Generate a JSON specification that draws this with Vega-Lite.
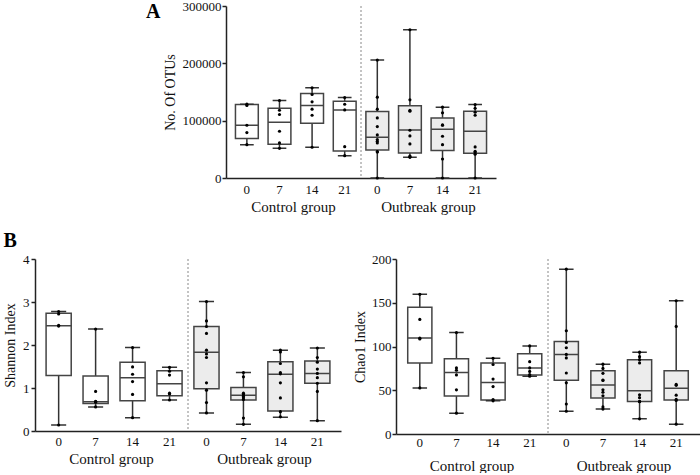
{
  "$schema": "https://vega.github.io/schema/vega-lite/v6.json",
  "padding": {"left": 3, "right": 0, "top": 0, "bottom": 0},
  "config": {
    "view": {"stroke": null},
    "font": "Liberation Serif",
    "axis": {"labelFont": "Liberation Serif", "titleFont": "Liberation Serif", "labelColor": "#111", "titleColor": "#111", "domainColor": "#222", "tickColor": "#222", "domainWidth": 1.5, "tickWidth": 1.5, "grid": false, "titleFontWeight": "normal"},
    "title": {"font": "Liberation Serif", "color": "#000"}
  },
  "datasets": {
    "boxA": [
      {"cat": "C0", "g": "Control", "min": 58200, "q1": 68700, "med": 92000, "q3": 128100, "max": 128800},
      {"cat": "C7", "g": "Control", "min": 51800, "q1": 58800, "med": 97300, "q3": 121700, "max": 135100},
      {"cat": "C14", "g": "Control", "min": 53600, "q1": 95500, "med": 126400, "q3": 147300, "max": 157300},
      {"cat": "C21", "g": "Control", "min": 39000, "q1": 47200, "med": 118800, "q3": 134000, "max": 140400},
      {"cat": "O0", "g": "Outbreak", "min": 0, "q1": 48900, "med": 71100, "q3": 115900, "max": 205600},
      {"cat": "O7", "g": "Outbreak", "min": 36100, "q1": 43700, "med": 83900, "q3": 125800, "max": 258600},
      {"cat": "O14", "g": "Outbreak", "min": 0, "q1": 47800, "med": 85000, "q3": 104800, "max": 123500},
      {"cat": "O21", "g": "Outbreak", "min": 0, "q1": 43100, "med": 81500, "q3": 116500, "max": 128100}
    ],
    "ptsA": [
      {"cat": "C0", "v": 128800}, {"cat": "C0", "v": 126400}, {"cat": "C0", "v": 92000}, {"cat": "C0", "v": 79200}, {"cat": "C0", "v": 58200},
      {"cat": "C7", "v": 135100}, {"cat": "C7", "v": 118200}, {"cat": "C7", "v": 110700}, {"cat": "C7", "v": 81500}, {"cat": "C7", "v": 61200}, {"cat": "C7", "v": 51800},
      {"cat": "C14", "v": 157300}, {"cat": "C14", "v": 145600}, {"cat": "C14", "v": 132800}, {"cat": "C14", "v": 120000}, {"cat": "C14", "v": 109500}, {"cat": "C14", "v": 53600},
      {"cat": "C21", "v": 140400}, {"cat": "C21", "v": 128700}, {"cat": "C21", "v": 118800}, {"cat": "C21", "v": 54700}, {"cat": "C21", "v": 39000},
      {"cat": "O0", "v": 205600}, {"cat": "O0", "v": 141000}, {"cat": "O0", "v": 120000}, {"cat": "O0", "v": 104800}, {"cat": "O0", "v": 89700}, {"cat": "O0", "v": 75100}, {"cat": "O0", "v": 67000}, {"cat": "O0", "v": 64000}, {"cat": "O0", "v": 61000}, {"cat": "O0", "v": 46000}, {"cat": "O0", "v": 45500}, {"cat": "O0", "v": 0},
      {"cat": "O7", "v": 258600}, {"cat": "O7", "v": 136300}, {"cat": "O7", "v": 118200}, {"cat": "O7", "v": 116500}, {"cat": "O7", "v": 83300}, {"cat": "O7", "v": 73400}, {"cat": "O7", "v": 59400}, {"cat": "O7", "v": 38400}, {"cat": "O7", "v": 37000}, {"cat": "O7", "v": 36100},
      {"cat": "O14", "v": 123500}, {"cat": "O14", "v": 113600}, {"cat": "O14", "v": 92600}, {"cat": "O14", "v": 92000}, {"cat": "O14", "v": 72800}, {"cat": "O14", "v": 58200}, {"cat": "O14", "v": 33200}, {"cat": "O14", "v": 0},
      {"cat": "O21", "v": 128100}, {"cat": "O21", "v": 121700}, {"cat": "O21", "v": 114700}, {"cat": "O21", "v": 109500}, {"cat": "O21", "v": 54200}, {"cat": "O21", "v": 46600}, {"cat": "O21", "v": 44300}, {"cat": "O21", "v": 41400}, {"cat": "O21", "v": 0}
    ],
    "boxS": [
      {"cat": "C0", "g": "Control", "min": 0.14, "q1": 1.29, "med": 2.45, "q3": 2.74, "max": 2.78},
      {"cat": "C7", "g": "Control", "min": 0.56, "q1": 0.64, "med": 0.68, "q3": 1.28, "max": 2.37},
      {"cat": "C14", "g": "Control", "min": 0.31, "q1": 0.705, "med": 1.24, "q3": 1.60, "max": 1.94},
      {"cat": "C21", "g": "Control", "min": 0.72, "q1": 0.82, "med": 1.10, "q3": 1.40, "max": 1.48},
      {"cat": "O0", "g": "Outbreak", "min": 0.42, "q1": 0.98, "med": 1.83, "q3": 2.43, "max": 3.01},
      {"cat": "O7", "g": "Outbreak", "min": 0.155, "q1": 0.72, "med": 0.83, "q3": 1.01, "max": 1.36},
      {"cat": "O14", "g": "Outbreak", "min": 0.32, "q1": 0.465, "med": 1.32, "q3": 1.61, "max": 1.88},
      {"cat": "O21", "g": "Outbreak", "min": 0.24, "q1": 1.11, "med": 1.34, "q3": 1.63, "max": 1.93}
    ],
    "ptsS": [
      {"cat": "C0", "v": 2.78}, {"cat": "C0", "v": 2.72}, {"cat": "C0", "v": 2.46}, {"cat": "C0", "v": 2.44}, {"cat": "C0", "v": 0.14},
      {"cat": "C7", "v": 2.37}, {"cat": "C7", "v": 0.92}, {"cat": "C7", "v": 0.69}, {"cat": "C7", "v": 0.68}, {"cat": "C7", "v": 0.67}, {"cat": "C7", "v": 0.56},
      {"cat": "C14", "v": 1.94}, {"cat": "C14", "v": 1.49}, {"cat": "C14", "v": 1.32}, {"cat": "C14", "v": 1.15}, {"cat": "C14", "v": 0.85}, {"cat": "C14", "v": 0.31},
      {"cat": "C21", "v": 1.48}, {"cat": "C21", "v": 1.39}, {"cat": "C21", "v": 1.30}, {"cat": "C21", "v": 0.88}, {"cat": "C21", "v": 0.86}, {"cat": "C21", "v": 0.72},
      {"cat": "O0", "v": 3.01}, {"cat": "O0", "v": 2.56}, {"cat": "O0", "v": 2.43}, {"cat": "O0", "v": 2.27}, {"cat": "O0", "v": 1.88}, {"cat": "O0", "v": 1.79}, {"cat": "O0", "v": 1.71}, {"cat": "O0", "v": 1.12}, {"cat": "O0", "v": 0.95}, {"cat": "O0", "v": 0.66}, {"cat": "O0", "v": 0.42},
      {"cat": "O7", "v": 1.36}, {"cat": "O7", "v": 1.26}, {"cat": "O7", "v": 0.88}, {"cat": "O7", "v": 0.86}, {"cat": "O7", "v": 0.84}, {"cat": "O7", "v": 0.80}, {"cat": "O7", "v": 0.77}, {"cat": "O7", "v": 0.73}, {"cat": "O7", "v": 0.30}, {"cat": "O7", "v": 0.155},
      {"cat": "O14", "v": 1.88}, {"cat": "O14", "v": 1.84}, {"cat": "O14", "v": 1.57}, {"cat": "O14", "v": 1.36}, {"cat": "O14", "v": 1.33}, {"cat": "O14", "v": 1.12}, {"cat": "O14", "v": 0.77}, {"cat": "O14", "v": 0.45}, {"cat": "O14", "v": 0.33},
      {"cat": "O21", "v": 1.93}, {"cat": "O21", "v": 1.71}, {"cat": "O21", "v": 1.60}, {"cat": "O21", "v": 1.44}, {"cat": "O21", "v": 1.34}, {"cat": "O21", "v": 1.24}, {"cat": "O21", "v": 1.11}, {"cat": "O21", "v": 0.92}, {"cat": "O21", "v": 0.24}
    ],
    "boxC": [
      {"cat": "C0", "g": "Control", "min": 52.7, "q1": 81.2, "med": 109.7, "q3": 145, "max": 159.6},
      {"cat": "C7", "g": "Control", "min": 23.8, "q1": 43.3, "med": 70.4, "q3": 85.9, "max": 115.9},
      {"cat": "C14", "g": "Control", "min": 37.9, "q1": 39.0, "med": 58.8, "q3": 81.2, "max": 86.6},
      {"cat": "C21", "g": "Control", "min": 66, "q1": 67.5, "med": 75.5, "q3": 91.7, "max": 100.7},
      {"cat": "O0", "g": "Outbreak", "min": 26, "q1": 61.4, "med": 91, "q3": 105.8, "max": 188.4},
      {"cat": "O7", "g": "Outbreak", "min": 28.5, "q1": 41.2, "med": 56, "q3": 72.2, "max": 79.8},
      {"cat": "O14", "g": "Outbreak", "min": 17.3, "q1": 37.2, "med": 49.5, "q3": 84.8, "max": 93.5},
      {"cat": "O21", "g": "Outbreak", "min": 11.2, "q1": 39, "med": 52.3, "q3": 72.2, "max": 152.3}
    ],
    "ptsC": [
      {"cat": "C0", "v": 159.6}, {"cat": "C0", "v": 131}, {"cat": "C0", "v": 109.5}, {"cat": "C0", "v": 108.7}, {"cat": "C0", "v": 52.7},
      {"cat": "C7", "v": 115.9}, {"cat": "C7", "v": 75.5}, {"cat": "C7", "v": 72.9}, {"cat": "C7", "v": 67.5}, {"cat": "C7", "v": 50.5}, {"cat": "C7", "v": 23.8},
      {"cat": "C14", "v": 86.6}, {"cat": "C14", "v": 79.4}, {"cat": "C14", "v": 62.8}, {"cat": "C14", "v": 54.2}, {"cat": "C14", "v": 39.4}, {"cat": "C14", "v": 37.9},
      {"cat": "C21", "v": 100.7}, {"cat": "C21", "v": 82.7}, {"cat": "C21", "v": 75.5}, {"cat": "C21", "v": 71.5}, {"cat": "C21", "v": 68}, {"cat": "C21", "v": 66},
      {"cat": "O0", "v": 188.4}, {"cat": "O0", "v": 118}, {"cat": "O0", "v": 104.7}, {"cat": "O0", "v": 98.6}, {"cat": "O0", "v": 91}, {"cat": "O0", "v": 87}, {"cat": "O0", "v": 69.7}, {"cat": "O0", "v": 58.5}, {"cat": "O0", "v": 34.3}, {"cat": "O0", "v": 26},
      {"cat": "O7", "v": 79.8}, {"cat": "O7", "v": 75}, {"cat": "O7", "v": 69.3}, {"cat": "O7", "v": 61.7}, {"cat": "O7", "v": 61.2}, {"cat": "O7", "v": 50.5}, {"cat": "O7", "v": 47.7}, {"cat": "O7", "v": 43.7}, {"cat": "O7", "v": 31}, {"cat": "O7", "v": 28.5},
      {"cat": "O14", "v": 93.5}, {"cat": "O14", "v": 88.4}, {"cat": "O14", "v": 85}, {"cat": "O14", "v": 81.2}, {"cat": "O14", "v": 44.8}, {"cat": "O14", "v": 41.5}, {"cat": "O14", "v": 37.2}, {"cat": "O14", "v": 37}, {"cat": "O14", "v": 17.3},
      {"cat": "O21", "v": 152.3}, {"cat": "O21", "v": 123}, {"cat": "O21", "v": 56.7}, {"cat": "O21", "v": 55.6}, {"cat": "O21", "v": 44.4}, {"cat": "O21", "v": 39.5}, {"cat": "O21", "v": 38.3}, {"cat": "O21", "v": 11.2}
    ]
  },
  "vconcat": [
    {
      "hconcat": [
        {"width": 101, "height": 1, "data": {"values": []}, "mark": "point"},
        {
          "width": 270, "height": 172,
          "title": {"text": "A", "anchor": "start", "frame": "bounds", "offset": -22, "dx": -17, "fontSize": 20, "fontWeight": "bold"},
          "layer": [
            {
              "encoding": {
                "x": {"field": "cat", "type": "nominal", "title": null, "scale": {"type": "band", "domain": ["C0","C7","C14","C21","O0","O7","O14","O21"], "paddingInner": 0.3, "paddingOuter": 0.29}, "axis": {"labelExpr": "replace(datum.value, /[CO]/, '')", "labelAngle": 0, "ticks": false, "labelPadding": 5, "labelFontSize": 13}}
              },
              "layer": [
                {"data": {"name": "boxA"}, "mark": {"type": "rule", "stroke": "#333", "strokeWidth": 1.5}, "encoding": {"y": {"field": "min", "type": "quantitative", "title": "No. Of OTUs", "scale": {"domain": [0, 300000], "nice": false}, "axis": {"values": [0, 100000, 200000, 300000], "format": "d", "titleFontSize": 14, "labelFontSize": 13, "tickSize": 4, "labelPadding": 1, "titlePadding": 5}}, "y2": {"field": "max"}}},
                {"data": {"name": "boxA"}, "mark": {"type": "bar", "stroke": "#444", "strokeWidth": 1.5}, "encoding": {"y": {"field": "q1", "type": "quantitative", "title": "No. Of OTUs", "scale": {"domain": [0, 300000], "nice": false}, "axis": {"values": [0, 100000, 200000, 300000], "format": "d", "titleFontSize": 14, "labelFontSize": 13, "tickSize": 4, "labelPadding": 1, "titlePadding": 5}}, "y2": {"field": "q3"}, "fill": {"field": "g", "type": "nominal", "scale": {"domain": ["Control", "Outbreak"], "range": ["#ffffff", "#ececec"]}, "legend": null}}},
                {"data": {"name": "boxA"}, "mark": {"type": "bar", "fill": "transparent", "stroke": "#444", "strokeWidth": 1.5}, "encoding": {"y": {"field": "med", "type": "quantitative", "title": "No. Of OTUs", "scale": {"domain": [0, 300000], "nice": false}, "axis": {"values": [0, 100000, 200000, 300000], "format": "d", "titleFontSize": 14, "labelFontSize": 13, "tickSize": 4, "labelPadding": 1, "titlePadding": 5}}, "y2": {"field": "med"}}},
                {"data": {"name": "boxA"}, "mark": {"type": "bar", "fill": "transparent", "stroke": "#333", "strokeWidth": 1.5, "width": {"band": 0.6}}, "encoding": {"y": {"field": "max", "type": "quantitative", "title": "No. Of OTUs", "scale": {"domain": [0, 300000], "nice": false}, "axis": {"values": [0, 100000, 200000, 300000], "format": "d", "titleFontSize": 14, "labelFontSize": 13, "tickSize": 4, "labelPadding": 1, "titlePadding": 5}}, "y2": {"field": "max"}}},
                {"data": {"name": "boxA"}, "mark": {"type": "bar", "fill": "transparent", "stroke": "#333", "strokeWidth": 1.5, "width": {"band": 0.6}}, "encoding": {"y": {"field": "min", "type": "quantitative", "title": "No. Of OTUs", "scale": {"domain": [0, 300000], "nice": false}, "axis": {"values": [0, 100000, 200000, 300000], "format": "d", "titleFontSize": 14, "labelFontSize": 13, "tickSize": 4, "labelPadding": 1, "titlePadding": 5}}, "y2": {"field": "min"}}},
                {"data": {"name": "ptsA"}, "mark": {"type": "point", "filled": true, "color": "#000", "size": 10, "opacity": 1}, "encoding": {"y": {"field": "v", "type": "quantitative", "title": "No. Of OTUs", "scale": {"domain": [0, 300000], "nice": false}, "axis": {"values": [0, 100000, 200000, 300000], "format": "d", "titleFontSize": 14, "labelFontSize": 13, "tickSize": 4, "labelPadding": 1, "titlePadding": 5}}}}
              ]
            },
            {
              "data": {"values": [{"g": "Outbreak"}]},
              "mark": {"type": "rule", "stroke": "#888", "strokeWidth": 1, "strokeDash": [2, 2]},
              "encoding": {"x": {"field": "g", "type": "nominal", "bandPosition": 0, "title": null, "scale": {"type": "band", "domain": ["Control", "Outbreak"], "paddingInner": 0, "paddingOuter": 0}, "axis": {"orient": "bottom", "offset": 19, "domain": false, "ticks": false, "labelPadding": 2, "labelFontSize": 15, "labelAngle": 0, "labelExpr": "datum.value + ' group'"}}}
            }
          ],
          "resolve": {"scale": {"x": "independent"}, "axis": {"x": "independent"}}
        }
      ],
      "spacing": 10
    },
    {
      "title": {"text": "B", "anchor": "start", "frame": "bounds", "offset": -8, "fontSize": 20, "fontWeight": "bold"},
      "hconcat": [
        {
          "width": 306, "height": 172,
          "title": {"text": " ", "fontSize": 8, "offset": 2},
          "layer": [
            {
              "encoding": {"x": {"field": "cat", "type": "nominal", "title": null, "scale": {"type": "band", "domain": ["C0","C7","C14","C21","O0","O7","O14","O21"], "paddingInner": 0.32, "paddingOuter": 0.3}, "axis": {"labelExpr": "replace(datum.value, /[CO]/, '')", "labelAngle": 0, "ticks": false, "labelPadding": 4, "labelFontSize": 13}}},
              "layer": [
                {"data": {"name": "boxS"}, "mark": {"type": "rule", "stroke": "#333", "strokeWidth": 1.5}, "encoding": {"y": {"field": "min", "type": "quantitative", "title": "Shannon Index", "scale": {"domain": [0, 4], "nice": false}, "axis": {"values": [0, 1, 2, 3, 4], "titleFontSize": 14, "labelFontSize": 13, "tickSize": 4, "labelPadding": 2, "titlePadding": 5}}, "y2": {"field": "max"}}},
                {"data": {"name": "boxS"}, "mark": {"type": "bar", "stroke": "#444", "strokeWidth": 1.5}, "encoding": {"y": {"field": "q1", "type": "quantitative", "title": "Shannon Index", "scale": {"domain": [0, 4], "nice": false}, "axis": {"values": [0, 1, 2, 3, 4], "titleFontSize": 14, "labelFontSize": 13, "tickSize": 4, "labelPadding": 2, "titlePadding": 5}}, "y2": {"field": "q3"}, "fill": {"field": "g", "type": "nominal", "scale": {"domain": ["Control", "Outbreak"], "range": ["#ffffff", "#ececec"]}, "legend": null}}},
                {"data": {"name": "boxS"}, "mark": {"type": "bar", "fill": "transparent", "stroke": "#444", "strokeWidth": 1.5}, "encoding": {"y": {"field": "med", "type": "quantitative", "title": "Shannon Index", "scale": {"domain": [0, 4], "nice": false}, "axis": {"values": [0, 1, 2, 3, 4], "titleFontSize": 14, "labelFontSize": 13, "tickSize": 4, "labelPadding": 2, "titlePadding": 5}}, "y2": {"field": "med"}}},
                {"data": {"name": "boxS"}, "mark": {"type": "bar", "fill": "transparent", "stroke": "#333", "strokeWidth": 1.5, "width": {"band": 0.6}}, "encoding": {"y": {"field": "max", "type": "quantitative", "title": "Shannon Index", "scale": {"domain": [0, 4], "nice": false}, "axis": {"values": [0, 1, 2, 3, 4], "titleFontSize": 14, "labelFontSize": 13, "tickSize": 4, "labelPadding": 2, "titlePadding": 5}}, "y2": {"field": "max"}}},
                {"data": {"name": "boxS"}, "mark": {"type": "bar", "fill": "transparent", "stroke": "#333", "strokeWidth": 1.5, "width": {"band": 0.6}}, "encoding": {"y": {"field": "min", "type": "quantitative", "title": "Shannon Index", "scale": {"domain": [0, 4], "nice": false}, "axis": {"values": [0, 1, 2, 3, 4], "titleFontSize": 14, "labelFontSize": 13, "tickSize": 4, "labelPadding": 2, "titlePadding": 5}}, "y2": {"field": "min"}}},
                {"data": {"name": "ptsS"}, "mark": {"type": "point", "filled": true, "color": "#000", "size": 10, "opacity": 1}, "encoding": {"y": {"field": "v", "type": "quantitative", "title": "Shannon Index", "scale": {"domain": [0, 4], "nice": false}, "axis": {"values": [0, 1, 2, 3, 4], "titleFontSize": 14, "labelFontSize": 13, "tickSize": 4, "labelPadding": 2, "titlePadding": 5}}}}
              ]
            },
            {
              "data": {"values": [{"g": "Outbreak"}]},
              "mark": {"type": "rule", "stroke": "#888", "strokeWidth": 1, "strokeDash": [2, 2]},
              "encoding": {"x": {"field": "g", "type": "nominal", "bandPosition": 0, "title": null, "scale": {"type": "band", "domain": ["Control", "Outbreak"], "paddingInner": 0, "paddingOuter": 0}, "axis": {"orient": "bottom", "offset": 18, "domain": false, "ticks": false, "labelPadding": 2, "labelFontSize": 15, "labelAngle": 0, "labelExpr": "datum.value + ' group'"}}}
            }
          ],
          "resolve": {"scale": {"x": "independent"}, "axis": {"x": "independent"}}
        },
        {
          "width": 304, "height": 175,
          "layer": [
            {
              "encoding": {"x": {"field": "cat", "type": "nominal", "title": null, "scale": {"type": "band", "domain": ["C0","C7","C14","C21","O0","O7","O14","O21"], "paddingInner": 0.34, "paddingOuter": 0.32}, "axis": {"labelExpr": "replace(datum.value, /[CO]/, '')", "labelAngle": 0, "ticks": false, "labelPadding": 2, "labelFontSize": 13}}},
              "layer": [
                {"data": {"name": "boxC"}, "mark": {"type": "rule", "stroke": "#333", "strokeWidth": 1.5}, "encoding": {"y": {"field": "min", "type": "quantitative", "title": "Chao1 Index", "scale": {"domain": [0, 200], "nice": false}, "axis": {"values": [0, 50, 100, 150, 200], "titleFontSize": 14, "labelFontSize": 13, "tickSize": 4, "labelPadding": 1, "titlePadding": 4}}, "y2": {"field": "max"}}},
                {"data": {"name": "boxC"}, "mark": {"type": "bar", "stroke": "#444", "strokeWidth": 1.5}, "encoding": {"y": {"field": "q1", "type": "quantitative", "title": "Chao1 Index", "scale": {"domain": [0, 200], "nice": false}, "axis": {"values": [0, 50, 100, 150, 200], "titleFontSize": 14, "labelFontSize": 13, "tickSize": 4, "labelPadding": 1, "titlePadding": 4}}, "y2": {"field": "q3"}, "fill": {"field": "g", "type": "nominal", "scale": {"domain": ["Control", "Outbreak"], "range": ["#ffffff", "#ececec"]}, "legend": null}}},
                {"data": {"name": "boxC"}, "mark": {"type": "bar", "fill": "transparent", "stroke": "#444", "strokeWidth": 1.5}, "encoding": {"y": {"field": "med", "type": "quantitative", "title": "Chao1 Index", "scale": {"domain": [0, 200], "nice": false}, "axis": {"values": [0, 50, 100, 150, 200], "titleFontSize": 14, "labelFontSize": 13, "tickSize": 4, "labelPadding": 1, "titlePadding": 4}}, "y2": {"field": "med"}}},
                {"data": {"name": "boxC"}, "mark": {"type": "bar", "fill": "transparent", "stroke": "#333", "strokeWidth": 1.5, "width": {"band": 0.6}}, "encoding": {"y": {"field": "max", "type": "quantitative", "title": "Chao1 Index", "scale": {"domain": [0, 200], "nice": false}, "axis": {"values": [0, 50, 100, 150, 200], "titleFontSize": 14, "labelFontSize": 13, "tickSize": 4, "labelPadding": 1, "titlePadding": 4}}, "y2": {"field": "max"}}},
                {"data": {"name": "boxC"}, "mark": {"type": "bar", "fill": "transparent", "stroke": "#333", "strokeWidth": 1.5, "width": {"band": 0.6}}, "encoding": {"y": {"field": "min", "type": "quantitative", "title": "Chao1 Index", "scale": {"domain": [0, 200], "nice": false}, "axis": {"values": [0, 50, 100, 150, 200], "titleFontSize": 14, "labelFontSize": 13, "tickSize": 4, "labelPadding": 1, "titlePadding": 4}}, "y2": {"field": "min"}}},
                {"data": {"name": "ptsC"}, "mark": {"type": "point", "filled": true, "color": "#000", "size": 10, "opacity": 1}, "encoding": {"y": {"field": "v", "type": "quantitative", "title": "Chao1 Index", "scale": {"domain": [0, 200], "nice": false}, "axis": {"values": [0, 50, 100, 150, 200], "titleFontSize": 14, "labelFontSize": 13, "tickSize": 4, "labelPadding": 1, "titlePadding": 4}}}}
              ]
            },
            {
              "data": {"values": [{"g": "Outbreak"}]},
              "mark": {"type": "rule", "stroke": "#888", "strokeWidth": 1, "strokeDash": [2, 2]},
              "encoding": {"x": {"field": "g", "type": "nominal", "bandPosition": 0, "title": null, "scale": {"type": "band", "domain": ["Control", "Outbreak"], "paddingInner": 0, "paddingOuter": 0}, "axis": {"orient": "bottom", "offset": 22, "domain": false, "ticks": false, "labelPadding": 2, "labelFontSize": 15, "labelAngle": 0, "labelExpr": "datum.value + ' group'"}}}
            }
          ],
          "resolve": {"scale": {"x": "independent"}, "axis": {"x": "independent"}}
        }
      ],
      "spacing": 12
    }
  ],
  "spacing": 17
}
